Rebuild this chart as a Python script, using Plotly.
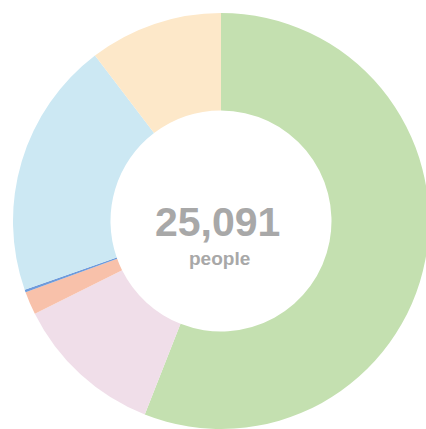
import plotly.graph_objects as go

labels = ["Group A", "Group B", "Group C", "Group D", "Group E", "Group F"]
values = [14044, 2928, 452, 50, 5018, 2599]
colors = ["#C4E0B0", "#F0DEE9", "#F8C1AA", "#6E9BDB", "#CCE8F3", "#FDE8C9"]
total_text = "25,091"
unit_text = "people"

W, H = 431, 429
L, T, S = 13, 13, 416

fig = go.Figure(go.Pie(
    labels=labels,
    values=values,
    hole=110.5 / 208,
    sort=False,
    direction="clockwise",
    rotation=0,
    textinfo="none",
    hoverinfo="label+value+percent",
    marker=dict(colors=colors, line=dict(width=0)),
    showlegend=False,
))

def px_x(x):
    return (x - L) / S

def px_y(y):
    return 1 - (y - T) / S

fig.add_annotation(text=f"<b>{total_text}</b>", x=px_x(217), y=px_y(221.5), xref="paper", yref="paper",
                   showarrow=False, xanchor="center", yanchor="middle",
                   font=dict(family="Liberation Sans, Arial, sans-serif", size=41, color="#A8A8A8"))
fig.add_annotation(text=f"<b>{unit_text}</b>", x=px_x(219), y=px_y(258), xref="paper", yref="paper",
                   showarrow=False, xanchor="center", yanchor="middle",
                   font=dict(family="Liberation Sans, Arial, sans-serif", size=19, color="#A8A8A8"))

fig.update_layout(
    width=W, height=H,
    margin=dict(l=L, r=W - L - S, t=T, b=H - T - S),
    paper_bgcolor="white", plot_bgcolor="white",
)

fig.write_html(
    "out.html",
    config={"displayModeBar": False},
    post_script="document.body.style.margin='0';document.body.style.overflow='hidden';",
)
